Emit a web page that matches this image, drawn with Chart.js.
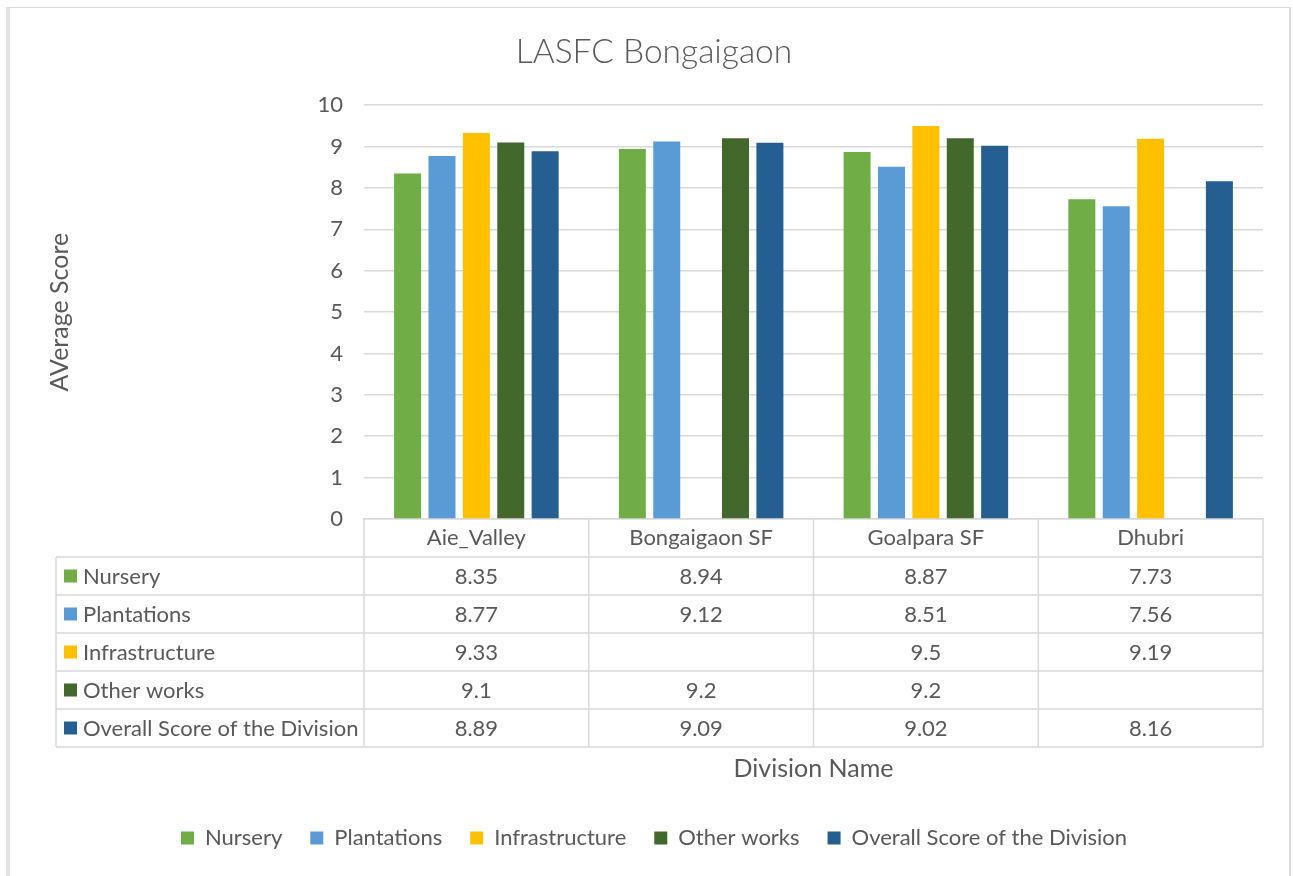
<!DOCTYPE html>
<html>
<head>
<meta charset="utf-8">
<script src="https://cdn.jsdelivr.net/npm/chart.js@4.4.1/dist/chart.umd.min.js"></script>
<style>
    html, body { margin: 0; padding: 0; background: #fff; overflow: hidden; }
    #wrap { position: relative; width: 1293px; height: 876px; }
    #frame {
        position: absolute; left: 6px; top: 7px; width: 1279px; height: 900px;
        border-left: 4px solid #e4e4e4; border-top: 1px solid #d9d9d9; border-right: 2px solid #d9d9d9;
    }
    canvas { position: absolute; left: 0; top: 0; }
</style>
</head>
<body>
<div id="wrap">
    <div id="frame"></div>
    <canvas id="chart" width="1293" height="876"></canvas>
</div>
<script>
// Data
const categories = ["Aie_Valley", "Bongaigaon SF", "Goalpara SF", "Dhubri"];
const seriesNames = ["Nursery", "Plantations", "Infrastructure", "Other works", "Overall Score of the Division"];
const nursery = [8.35, 8.94, 8.87, 7.73];
const plantations = [8.77, 9.12, 8.51, 7.56];
const infrastructure = [9.33, null, 9.5, 9.19];
const otherWorks = [9.1, 9.2, 9.2, null];
const overall = [8.89, 9.09, 9.02, 8.16];
const yTicks = [0, 1, 2, 3, 4, 5, 6, 7, 8, 9, 10];

const colors = ["#70AD47", "#5B9BD5", "#FFC000", "#43682B", "#255E91"];
const textColor = "#595959";
const lineColor = "#d9d9d9";
const FONT = "Lato, 'Open Sans', sans-serif";
const ROW_H = 38;
const TABLE_LEFT = 56;

// Helper: draw the data table under the plot area
const dataTablePlugin = {
    id: "dataTable",
    afterDraw(chart) {
        const ctx = chart.ctx;
        const area = chart.chartArea;
        const xs = chart.scales.x;
        const sets = chart.data.datasets;
        const top = area.bottom;
        const bottom = top + ROW_H * (sets.length + 1);
        const step = area.width / categories.length;

        ctx.save();
        ctx.strokeStyle = lineColor;
        ctx.lineWidth = 1.5;
        ctx.beginPath();
        // column lines
        for (let i = 0; i <= categories.length; i++) {
            const x = area.left + step * i;
            ctx.moveTo(x, top);
            ctx.lineTo(x, bottom);
        }
        ctx.moveTo(TABLE_LEFT, top + ROW_H);
        ctx.lineTo(TABLE_LEFT, bottom);
        // row lines
        for (let r = 1; r <= sets.length + 1; r++) {
            const y = top + ROW_H * r;
            ctx.moveTo(TABLE_LEFT, y);
            ctx.lineTo(area.right, y);
        }
        ctx.stroke();

        ctx.font = "22px " + FONT;
        ctx.textBaseline = "middle";
        sets.forEach((ds, r) => {
            const cy = top + ROW_H * (r + 1) + ROW_H / 2;
            ctx.fillStyle = ds.backgroundColor;
            ctx.fillRect(TABLE_LEFT + 8, cy - 6.5, 13, 13);
            ctx.fillStyle = textColor;
            ctx.textAlign = "left";
            ctx.fillText(ds.label, TABLE_LEFT + 27, cy + 1);
            ctx.textAlign = "center";
            ds.data.forEach((v, c) => {
                if (v === null) return;
                ctx.fillText(String(v), xs.getPixelForValue(c), cy + 1);
            });
        });
        ctx.restore();
    }
};

const seriesData = [nursery, plantations, infrastructure, otherWorks, overall];

new Chart(document.getElementById("chart"), {
    type: "bar",
    data: {
        labels: categories,
        datasets: seriesNames.map((name, i) => ({
            label: name,
            data: seriesData[i],
            backgroundColor: colors[i],
            borderWidth: 0,
            barPercentage: 0.785,
            categoryPercentage: 0.765
        }))
    },
    options: {
        responsive: false,
        animation: false,
        layout: { padding: { left: 45, right: 30, top: 0, bottom: 17 } },
        plugins: {
            title: {
                display: true,
                text: "LASFC Bongaigaon",
                color: textColor,
                font: { family: FONT, size: 33.5, weight: "300" },
                padding: { top: 32, bottom: 33 }
            },
            legend: {
                position: "bottom",
                labels: {
                    color: textColor,
                    font: { family: FONT, size: 22 },
                    boxWidth: 13,
                    boxHeight: 13,
                    padding: 28
                }
            },
            tooltip: { enabled: false }
        },
        scales: {
            x: {
                grid: { display: false, drawTicks: false },
                border: { display: true, color: lineColor, width: 1.5 },
                ticks: { color: textColor, font: { family: FONT, size: 22 }, padding: 6, maxRotation: 0 },
                title: {
                    display: true,
                    text: "Division Name",
                    color: textColor,
                    font: { family: FONT, size: 25 },
                    padding: { top: 0, bottom: 15 }
                },
                afterFit(scale) { scale.height = 280; }
            },
            y: {
                min: 0,
                max: 10,
                grid: { color: lineColor, lineWidth: 1.5, drawTicks: false },
                border: { display: false },
                afterBuildTicks(scale) { scale.ticks = yTicks.map(v => ({ value: v })); },
                ticks: { color: textColor, font: { family: FONT, size: 22 }, padding: 21 },
                title: {
                    display: true,
                    text: "AVerage Score",
                    color: textColor,
                    font: { family: FONT, size: 25 },
                    padding: { top: 0, bottom: 0 }
                },
                afterFit(scale) { scale.width = 319; }
            }
        }
    },
    plugins: [dataTablePlugin]
});
</script>
</body>
</html>
